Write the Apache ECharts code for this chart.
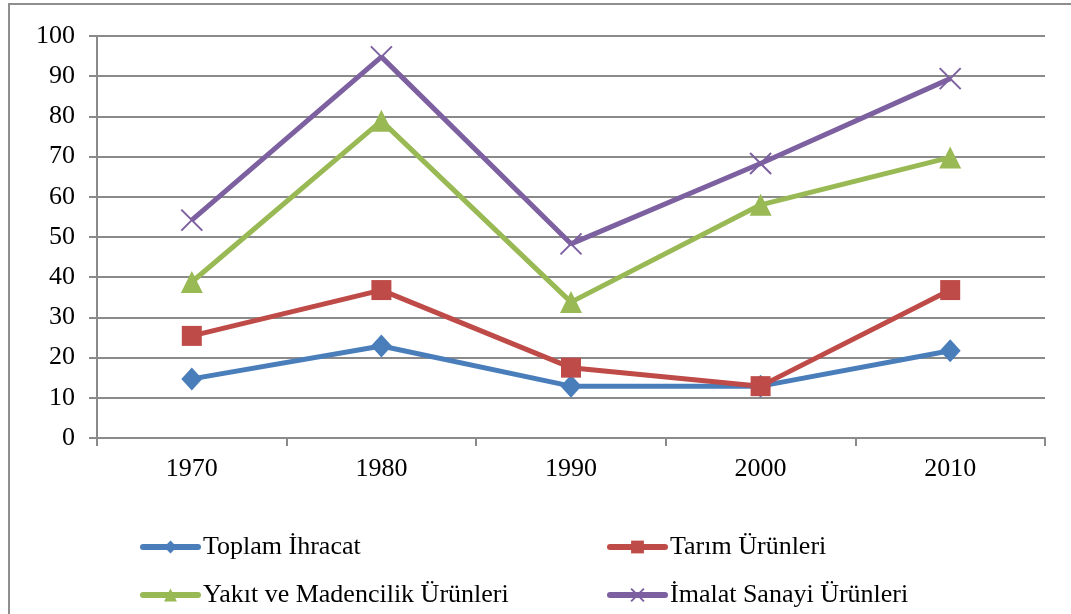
<!DOCTYPE html>
<html>
<head>
<meta charset="utf-8">
<script src="https://cdn.jsdelivr.net/npm/echarts@6/dist/echarts.min.js"></script>
<style>
	html, body { margin: 0; padding: 0; background: #fff; }
	#chart { width: 1071px; height: 614px; }
</style>
</head>
<body>
<div id="chart"></div>
<script>
var years = ['1970', '1980', '1990', '2000', '2010'];
var toplamIhracat = [14.7, 22.9, 12.9, 12.9, 21.7];
var tarimUrunleri = [25.4, 36.8, 17.5, 12.9, 36.8];
var yakitMadencilik = [38.8, 78.9, 33.8, 58.0, 69.8];
var imalatSanayi = [54.2, 94.8, 48.3, 68.3, 89.4];
var yTicks = [0, 10, 20, 30, 40, 50, 60, 70, 80, 90, 100];

var seriesNames = ['Toplam İhracat', 'Tarım Ürünleri', 'Yakıt ve Madencilik Ürünleri', 'İmalat Sanayi Ürünleri'];
var colors = ['#4a7ebb', '#be4b48', '#98b954', '#7d60a0'];

var font = 'Liberation Serif, Times New Roman, serif';
var gridColor = '#8a8a8a';

var myChart = echarts.init(document.getElementById('chart'));

function makeSeries(name, data, color, symbol, size, extra) {
	var s = {
		name: name,
		type: 'line',
		data: data,
		symbol: symbol,
		symbolSize: size,
		showSymbol: true,
		lineStyle: { color: color, width: 5 },
		itemStyle: { color: color },
		emphasis: { disabled: true },
		z: 3
	};
	if (extra) {
		s.itemStyle = extra;
	}
	return s;
}

// legend: one per item so it sits in two columns like the original
function makeLegend(name, left, top) {
	return {
		data: [name],
		left: left,
		top: top,
		itemWidth: 55,
		itemHeight: 16,
		padding: 0,
		lineStyle: { width: 6, cap: 'round' },
		textStyle: { fontFamily: font, fontSize: 26, color: '#000' },
		selectedMode: false
	};
}

var option = {
	animation: false,
	backgroundColor: '#fff',
	color: colors,
	textStyle: { fontFamily: font },
	graphic: [{
		type: 'rect',
		shape: { x: 9, y: 4, width: 1200, height: 800 },
		style: { fill: 'none', stroke: '#8e8e8e', lineWidth: 2 },
		silent: true,
		z: -1
	}],
	legend: [
		makeLegend(seriesNames[0], 140, 534),
		makeLegend(seriesNames[1], 607, 534),
		makeLegend(seriesNames[2], 140, 582),
		makeLegend(seriesNames[3], 607, 582)
	],
	grid: {
		left: 97,
		top: 36,
		right: 26,
		bottom: 176,
		containLabel: false
	},
	xAxis: {
		type: 'category',
		data: years,
		boundaryGap: true,
		axisLine: { lineStyle: { color: gridColor, width: 2 } },
		axisTick: { show: true, length: 8, alignWithLabel: false, lineStyle: { color: gridColor, width: 2 } },
		axisLabel: { fontFamily: font, fontSize: 26, color: '#000', margin: 18 },
		splitLine: { show: false }
	},
	yAxis: {
		type: 'value',
		min: yTicks[0],
		max: yTicks[yTicks.length - 1],
		interval: 10,
		axisLine: { show: true, lineStyle: { color: gridColor, width: 2 } },
		axisTick: { show: true, length: 8, lineStyle: { color: gridColor, width: 2 } },
		axisLabel: { fontFamily: font, fontSize: 26, color: '#000', margin: 22 },
		splitLine: { show: true, lineStyle: { color: gridColor, width: 2 } }
	},
	series: [
		makeSeries(seriesNames[0], toplamIhracat, colors[0], 'diamond', [21, 23]),
		makeSeries(seriesNames[1], tarimUrunleri, colors[1], 'rect', 20),
		makeSeries(seriesNames[2], yakitMadencilik, colors[2], 'triangle', [22, 22]),
		makeSeries(seriesNames[3], imalatSanayi, colors[3], 'path://M0,0L10,10M10,0L0,10', [21, 21],
			{ color: 'none', borderColor: colors[3], borderWidth: 2 })
	]
};

myChart.setOption(option, true);
</script>
</body>
</html>
